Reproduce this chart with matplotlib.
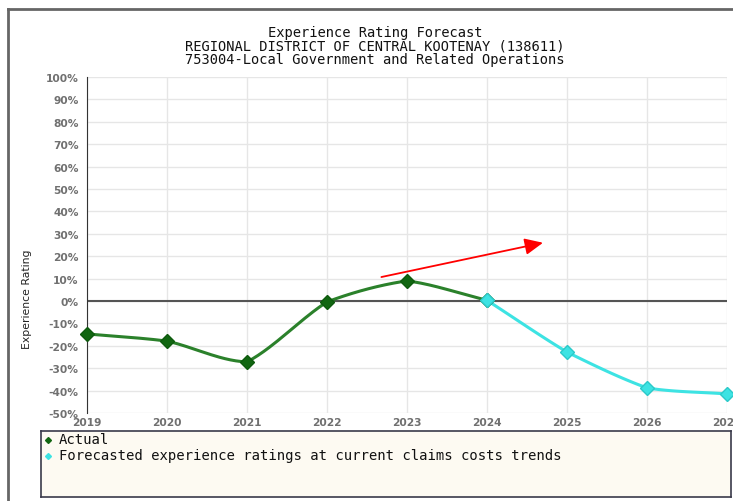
import numpy as np
import matplotlib.pyplot as plt
from matplotlib.lines import Line2D

# --------- data ---------
years = [2019, 2020, 2021, 2022, 2023, 2024, 2025, 2026, 2027]
actual_years = [2019, 2020, 2021, 2022, 2023, 2024]
actual_vals = [-14.7, -17.9, -27.2, -0.4, 9.0, 0.3]
forecast_years = [2024, 2025, 2026, 2027]
forecast_vals = [0.3, -22.8, -38.8, -41.5]
y_ticks = list(range(-50, 101, 10))

title_lines = ["Experience Rating Forecast",
               "REGIONAL DISTRICT OF CENTRAL KOOTENAY (138611)",
               "753004-Local Government and Related Operations"]
legend_labels = ["Actual", "Forecasted experience ratings at current claims costs trends"]

# arrow (start, end) in data units
arrow_start = (2022.68, 10.7)
arrow_end = (2024.7, 26.0)

GREEN = "#1f7a1f"
CYAN = "#3de3e3"
MONO = "DejaVu Sans Mono"


def smooth(xs, ys, n=30, alpha=0.45):
    # mostly straight segments, bent a little toward a catmull-rom curve (drawing only)
    xs = np.asarray(xs, float)
    ys = np.asarray(ys, float)
    g = np.gradient(ys, xs)
    out_x, out_y = [], []
    for i in range(len(xs) - 1):
        h = xs[i + 1] - xs[i]
        d = (ys[i + 1] - ys[i]) / h
        m0 = d + alpha * (g[i] - d)
        m1 = d + alpha * (g[i + 1] - d)
        t = np.linspace(0, 1, n)
        h00 = 2*t**3 - 3*t**2 + 1
        h10 = t**3 - 2*t**2 + t
        h01 = -2*t**3 + 3*t**2
        h11 = t**3 - t**2
        out_x.append(xs[i] + t*h)
        out_y.append(h00*ys[i] + h10*h*m0 + h01*ys[i+1] + h11*h*m1)
    return np.concatenate(out_x), np.concatenate(out_y)


fig = plt.figure(figsize=(7.33, 5.02), dpi=100)
ax = fig.add_axes([87/733, 1 - 414/502, 640/733, 336/502])

ax.set_xlim(2019, 2027)
ax.set_ylim(-50, 100)
ax.set_xticks(years)
ax.set_yticks(y_ticks)
ax.set_yticklabels([f"{v}%" for v in y_ticks])
ax.grid(True, color="#e6e6e6", lw=1)
ax.set_axisbelow(True)
for s in ["top", "right", "bottom"]:
    ax.spines[s].set_visible(False)
ax.spines["left"].set_color("#333333")
ax.tick_params(length=0, labelsize=7.7, labelcolor="#707070", pad=6)
for lab in ax.get_xticklabels() + ax.get_yticklabels():
    lab.set_fontweight("bold")
ax.tick_params(axis="x", pad=3)

ax.axhline(0, color="#555555", lw=1.5, zorder=2)

sx, sy = smooth(actual_years, actual_vals)
ax.plot(sx, sy, color=GREEN, lw=2.2, zorder=3, alpha=0.95)
ax.plot(actual_years, actual_vals, ls="none", marker="D", ms=7,
        color="#116611", mec="#0d5a0d", zorder=4, clip_on=False)

fx, fy = smooth(forecast_years, forecast_vals)
ax.plot(fx, fy, color=CYAN, lw=2.2, zorder=3)
ax.plot(forecast_years, forecast_vals, ls="none", marker="D", ms=7,
        color=CYAN, mec="#2cc9c9", zorder=5, clip_on=False)

ax.annotate("", xy=arrow_end, xytext=arrow_start,
            arrowprops=dict(arrowstyle="-|>,head_length=1.1,head_width=0.5",
                            color="red", lw=1.3, shrinkA=0, shrinkB=0))

# title lines
for i, line in enumerate(title_lines):
    fig.text(375/733, 1 - (33 + 13.5*i)/502, line, ha="center", va="center",
             family=MONO, fontsize=9.9, color="#111111")

fig.text(27/733, 1 - 299/502, "Experience Rating", rotation=90,
         ha="center", va="center", fontsize=7.8, color="#222222")

# legend box
lax = fig.add_axes([41/733, 1 - 498/502, 690/733, 66/502])
lax.set_facecolor("#fdfaf2")
lax.set_xticks([])
lax.set_yticks([])
lax.set_xlim(0, 690)
lax.set_ylim(66, 0)
for s in lax.spines.values():
    s.set_color("#3a3a4a")
    s.set_linewidth(1.2)
leg_colors = ["#116611", CYAN]
for i, (lab, col) in enumerate(zip(legend_labels, leg_colors)):
    yy = 8 + 16*i
    lax.plot(7, yy + 1, marker="D", ms=3, color=col, ls="none")
    lax.text(18, yy, lab, family=MONO, fontsize=10.0, va="center", color="#111111")

# outer frame
fig.add_artist(Line2D([8/733, 8/733], [0, 1 - 10/502], color="#666666", lw=2,
                      transform=fig.transFigure))
fig.add_artist(Line2D([8/733, 1], [1 - 10/502, 1 - 10/502], color="#666666", lw=2,
                      transform=fig.transFigure))

fig.savefig("out.png", dpi=100)
